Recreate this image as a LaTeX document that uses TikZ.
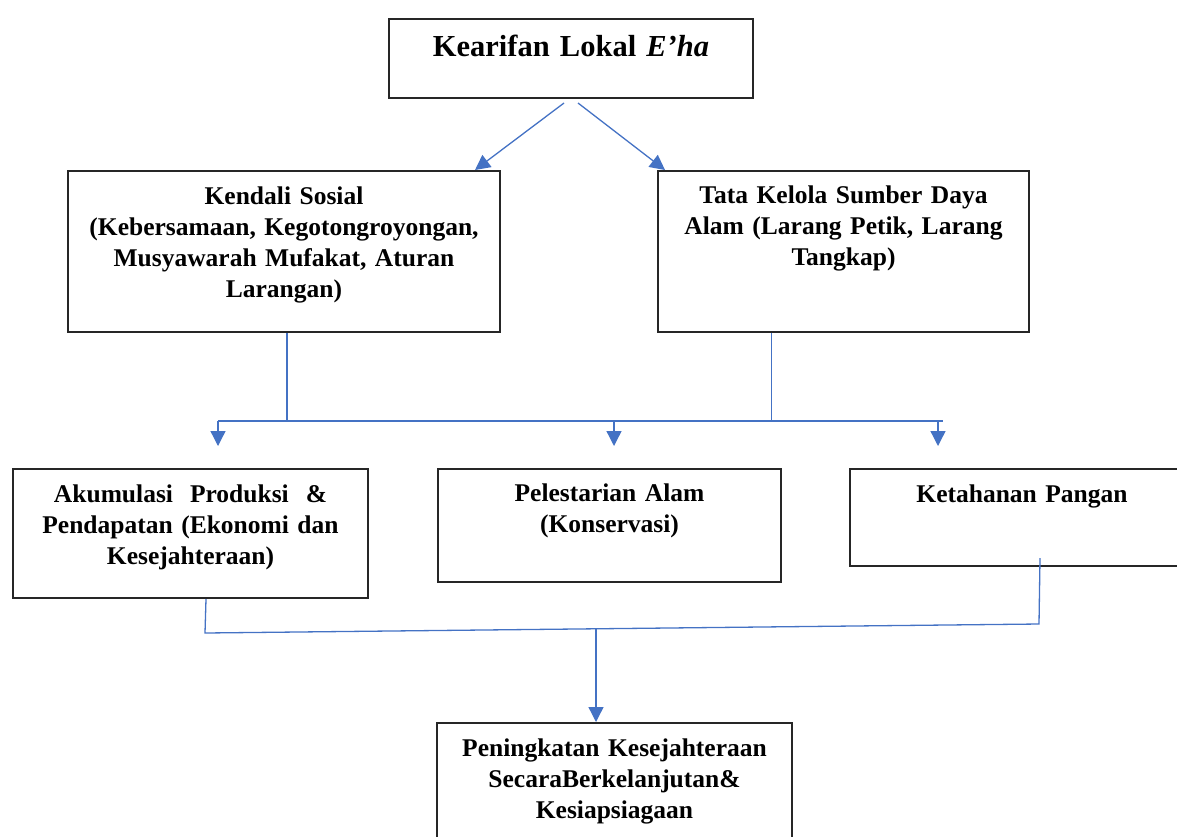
\documentclass[tikz,border=0pt]{standalone}
\usepackage{fontspec}
\setmainfont{Liberation Serif}
\usetikzlibrary{arrows.meta,calc}

\definecolor{wordblue}{HTML}{4472C4}

\tikzstyle{pt} = [coordinate]
\tikzstyle{box} = [draw=black!85, line width=2pt, inner sep=0, anchor=north west, align=center, font=\bfseries\fontsize{25.5}{31}\selectfont]
\tikzstyle{titlebox} = [box, font=\bfseries\fontsize{30.5}{36}\selectfont]
\tikzstyle{link} = [draw=wordblue, line width=1.3pt]
\tikzstyle{flow} = [link, -{Triangle[length=15pt,width=15pt]}]

\begin{document}
\begin{tikzpicture}[x=1pt,y=-1pt]
\useasboundingbox (0,0) rectangle (1177,836);

%Nodes
	\node[titlebox, text width=364pt, text height=37pt, text depth=42pt] (kearifan) at (388,18) {Kearifan Lokal \textit{E’ha}};
	
	\node[box, text width=432pt, text height=33pt, text depth=128pt] (kendali) at (67,170) {Kendali Sosial\\(Kebersamaan, Kegotongroyongan,\\Musyawarah Mufakat, Aturan\\Larangan)};
	\node[box, text width=371pt, text height=32pt, text depth=129pt] (tatakelola) at (657,170) {Tata Kelola Sumber Daya\\Alam (Larang Petik, Larang\\Tangkap)};
	
	\node[box, text width=355pt, text height=33pt, text depth=96pt] (akumulasi) at (12,468) {Akumulasi~~Produksi~~\&\\Pendapatan (Ekonomi dan\\Kesejahteraan)};
	\node[box, text width=343pt, text height=32pt, text depth=81pt] (pelestarian) at (437,468) {Pelestarian Alam\\(Konservasi)};
	\node[box, text width=344pt, text height=33pt, text depth=64pt] (ketahanan) at (849,468) {Ketahanan Pangan};
	
	\node[box, text width=355pt, text height=33pt, text depth=110pt] (peningkatan) at (436,722) {Peningkatan Kesejahteraan\\SecaraBerkelanjutan\&\\Kesiapsiagaan};
	
	\node[pt] (bus1) at (218,421) {};
	\node[pt] (bus2) at (614,421) {};
	\node[pt] (bus3) at (938,421) {};
	\node[pt] (busend) at (943,421) {};
	\node[pt] (in1) at (218,446) {};
	\node[pt] (in2) at (614,446) {};
	\node[pt] (in3) at (938,446) {};
	\node[pt] (kd) at ($(kendali.south)+(3,0)$) {};
	\node[pt] (tk) at ($(tatakelola.south)+(-72,0)$) {};
	\node[pt] (ak) at ($(akumulasi.south)+(15.5,0)$) {};
	\node[pt] (kt) at ($(ketahanan.south)+(18,-9)$) {};
	\node[pt] (join1) at (205,633) {};
	\node[pt] (join2) at (1039,624) {};
	\node[pt] (joinm) at (596,628.8) {};

%Connections
	\draw[flow] ($(kearifan.south)+(-7,4)$) -- ($(kendali.north east)+(-26,0)$);
	\draw[flow] ($(kearifan.south)+(7,4)$) -- ($(tatakelola.north west)+(8,0)$);
	
	\draw[link] (kd) -- (kd |- bus1);
	\draw[link] (tk) -- (tk |- bus1);
	\draw[link] (bus1) -- (busend);
	\draw[flow] (bus1) -- (in1);
	\draw[flow] (bus2) -- (in2);
	\draw[flow] (bus3) -- (in3);
	
	\draw[link] (ak) -- (join1) -- (join2) -- (kt);
	\draw[flow] (joinm) -- (joinm |- peningkatan.north);

\end{tikzpicture}
\end{document}
